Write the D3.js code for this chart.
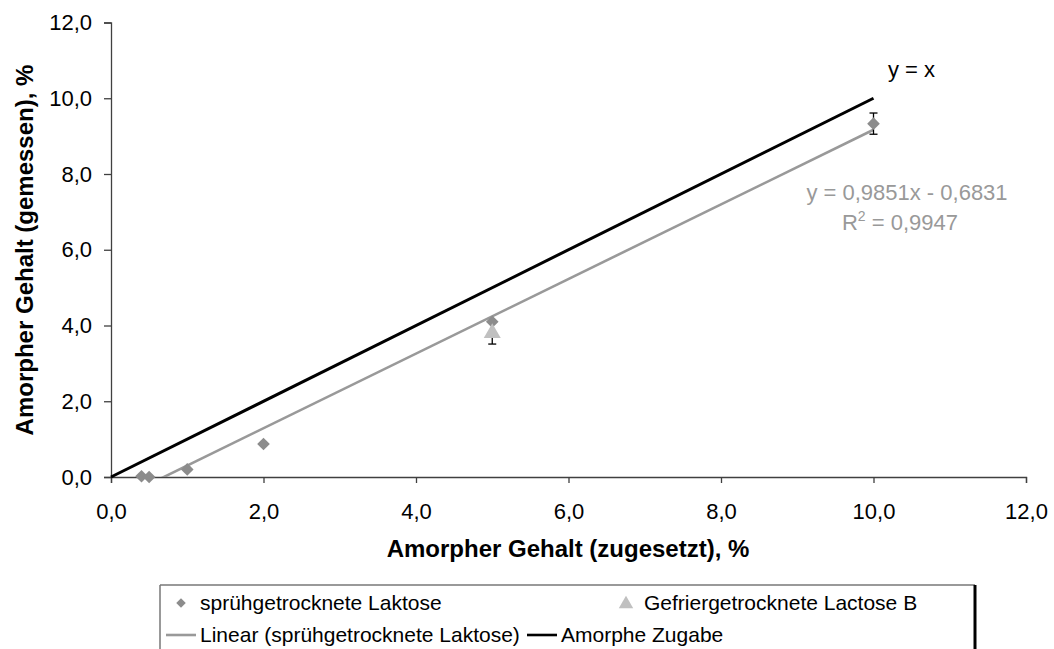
<!DOCTYPE html>
<html><head><meta charset="utf-8">
<script src="https://cdn.jsdelivr.net/npm/d3@7"></script>
<style>body{margin:0;background:#fff;} svg{display:block;font-family:Arial,"Liberation Sans",sans-serif;}</style>
</head><body>
<svg id="c" width="1054" height="649"></svg>
<script>
// Data
const sprayX = [0.4, 0.5, 1.0, 2.0, 5.0, 10.0];
const sprayY = [0.02, 0.0, 0.2, 0.87, 4.1, 9.33];
const sprayErr = [0, 0, 0, 0, 0, 0.28];
const freezeX = [5.0];
const freezeY = [3.8];
const freezeErr = [0.29];
const trendSlope = 0.9851, trendIntercept = -0.6831;
const trendRange = [0.4, 10.0];
const identityRange = [0, 10];
const xTicks = [0, 2, 4, 6, 8, 10, 12];
const yTicks = [0, 2, 4, 6, 8, 10, 12];
const legendLabels = ["sprühgetrocknete Laktose", "Gefriergetrocknete Lactose B", "Linear (sprühgetrocknete Laktose)", "Amorphe Zugabe"];

const FONT = "Arial, 'Liberation Sans', sans-serif";
const svg = d3.select("#c");
const x = d3.scaleLinear().domain([0, 12]).range([111, 1026]);
const y = d3.scaleLinear().domain([0, 12]).range([477, 22.5]);
const fmt = d => d.toFixed(1).replace(".", ",");

const xAxis = svg.append("g").attr("transform", `translate(0,${y(0)})`)
  .call(d3.axisBottom(x).tickValues(xTicks).tickFormat(fmt).tickSizeOuter(0).tickSize(6).tickPadding(20));
const yAxis = svg.append("g").attr("transform", `translate(${x(0)},0)`)
  .call(d3.axisLeft(y).tickValues(yTicks).tickFormat(fmt).tickSizeOuter(0).tickSize(7).tickPadding(12));
[xAxis, yAxis].forEach(a => {
  a.select(".domain").attr("stroke", "#404040").attr("stroke-width", 1.3);
  a.selectAll(".tick line").attr("stroke", "#404040").attr("stroke-width", 1.3);
  a.selectAll("text").attr("font-size", 22).attr("fill", "#000").attr("font-family", FONT);
});

// clip
svg.append("clipPath").attr("id", "pc").append("rect")
  .attr("x", x(0)).attr("y", y(12)).attr("width", x(12) - x(0)).attr("height", y(0) - y(12));

// identity line
svg.append("line").attr("x1", x(identityRange[0])).attr("y1", y(identityRange[0]))
  .attr("x2", x(identityRange[1])).attr("y2", y(identityRange[1]))
  .attr("stroke", "#000").attr("stroke-width", 3);

// trend line
svg.append("line").attr("clip-path", "url(#pc)")
  .attr("x1", x(trendRange[0])).attr("y1", y(trendSlope * trendRange[0] + trendIntercept))
  .attr("x2", x(trendRange[1])).attr("y2", y(trendSlope * trendRange[1] + trendIntercept))
  .attr("stroke", "#999").attr("stroke-width", 2.6);

// error bars
function errBars(xs, ys, es) {
  xs.forEach((xv, i) => {
    if (!es[i]) return;
    const g = svg.append("g").attr("stroke", "#000").attr("stroke-width", 1.3);
    g.append("line").attr("x1", x(xv)).attr("x2", x(xv)).attr("y1", y(ys[i] - es[i])).attr("y2", y(ys[i] + es[i]));
    [ys[i] - es[i], ys[i] + es[i]].forEach(v => g.append("line").attr("x1", x(xv) - 4).attr("x2", x(xv) + 4).attr("y1", y(v)).attr("y2", y(v)));
  });
}
errBars(freezeX, freezeY, freezeErr);
errBars(sprayX, sprayY, sprayErr);

const diamond = d3.symbol().type(d3.symbolSquare).size(80);
svg.selectAll(".sp").data(sprayX).enter().append("path")
  .attr("d", diamond).attr("fill", "#8c8c8c")
  .attr("transform", (d, i) => `translate(${x(d)},${y(sprayY[i])}) rotate(45)`);
const tri = d3.symbol().type(d3.symbolTriangle).size(125);
svg.selectAll(".fr").data(freezeX).enter().append("path")
  .attr("d", tri).attr("fill", "#c0c0c0")
  .attr("transform", (d, i) => `translate(${x(d)},${y(freezeY[i])})`);

// annotations
svg.append("text").attr("x", 888).attr("y", 77).attr("font-size", 22).attr("fill", "#000").text("y = x");
svg.append("text").attr("x", 907).attr("y", 200).attr("text-anchor", "middle").attr("font-size", 22).attr("fill", "#999").text("y = 0,9851x - 0,6831");
const r2 = svg.append("text").attr("x", 900).attr("y", 230).attr("text-anchor", "middle").attr("font-size", 22).attr("fill", "#999");
r2.append("tspan").text("R");
r2.append("tspan").attr("font-size", 14).attr("dy", -9).text("2");
r2.append("tspan").attr("dy", 9).text(" = 0,9947");

// axis titles
svg.append("text").attr("x", 568).attr("y", 557).attr("text-anchor", "middle").attr("font-size", 24).attr("font-weight", "bold").text("Amorpher Gehalt (zugesetzt), %");
svg.append("text").attr("transform", "translate(33,250) rotate(-90)").attr("text-anchor", "middle").attr("font-size", 24).attr("font-weight", "bold").text("Amorpher Gehalt (gemessen), %");

// legend
const LF = 21;
const lg = svg.append("g").attr("font-size", LF);
lg.append("line").attr("x1", 160).attr("x2", 975).attr("y1", 585).attr("y2", 585).attr("stroke", "#777").attr("stroke-width", 1.5);
lg.append("line").attr("x1", 160).attr("x2", 160).attr("y1", 585).attr("y2", 649).attr("stroke", "#777").attr("stroke-width", 1.5);
lg.append("line").attr("x1", 975).attr("x2", 975).attr("y1", 585).attr("y2", 649).attr("stroke", "#000").attr("stroke-width", 3);
lg.append("path").attr("d", d3.symbol().type(d3.symbolSquare).size(45)).attr("fill", "#8c8c8c").attr("transform", "translate(181,603) rotate(45)");
lg.append("text").attr("x", 200).attr("y", 610).text(legendLabels[0]);
lg.append("path").attr("d", d3.symbol().type(d3.symbolTriangle).size(90)).attr("fill", "#c0c0c0").attr("transform", "translate(626,604)");
lg.append("text").attr("x", 644).attr("y", 610).text(legendLabels[1]);
lg.append("line").attr("x1", 166).attr("x2", 196).attr("y1", 635).attr("y2", 635).attr("stroke", "#999").attr("stroke-width", 2.6);
lg.append("text").attr("x", 200).attr("y", 642).text(legendLabels[2]);
lg.append("line").attr("x1", 527).attr("x2", 557).attr("y1", 635).attr("y2", 635).attr("stroke", "#000").attr("stroke-width", 2.6);
lg.append("text").attr("x", 561).attr("y", 642).text(legendLabels[3]);
</script>
</body></html>
